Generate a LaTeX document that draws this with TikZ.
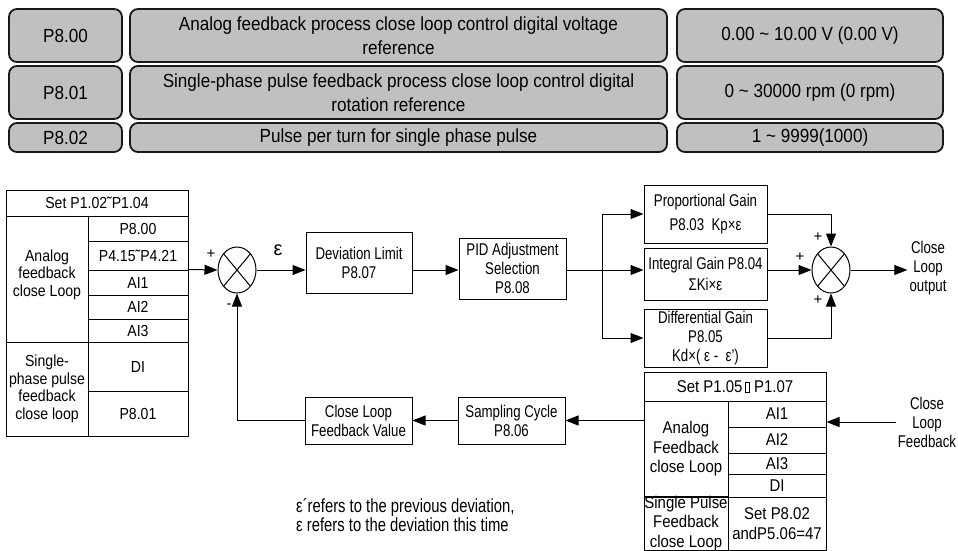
\documentclass[tikz,border=0pt]{standalone}
\usepackage{fontspec}
\setmainfont{Liberation Sans}
\newfontfamily\narrowfont[FakeStretch=0.78]{Liberation Sans}
\newfontfamily\cellfont[FakeStretch=0.88]{Liberation Sans}
\newfontfamily\topfont[FakeStretch=0.9]{Liberation Sans}
\usetikzlibrary{shapes.geometric,arrows.meta}
\definecolor{cellgray}{RGB}{192,192,192}
\newcommand{\missglyph}{{\setlength{\fboxsep}{0pt}\setlength{\fboxrule}{0.5pt}\,\fbox{\rule{0pt}{10pt}\hspace{3.5pt}}}}

\begin{document}
\begin{tikzpicture}[x=1pt, y=-1pt,
    topbox/.style={draw=black!90, line width=1.8pt, rounded corners=8pt, fill=cellgray, align=center, inner sep=0pt, font=\topfont\fontsize{19}{24}\selectfont},
    blk/.style={draw, line width=1pt, align=center, inner sep=0pt, font=\narrowfont\fontsize{17}{19}\selectfont},
    lcell/.style={draw, line width=1pt, align=center, inner sep=0pt, font=\cellfont\fontsize{16}{17.5}\selectfont},
    rcell/.style={draw, line width=1pt, align=center, inner sep=0pt, font=\cellfont\fontsize{17}{19.5}\selectfont},
    summer/.style={draw, ellipse, line width=1pt, minimum width=38, minimum height=46, inner sep=0pt,
        path picture={\draw (path picture bounding box.north west) -- (path picture bounding box.south east)
                            (path picture bounding box.north east) -- (path picture bounding box.south west);}},
    arr/.style={line width=1pt, -{Triangle[length=13pt,width=10pt]}},
    line/.style={line width=1pt},
    sign/.style={inner sep=0pt, font=\fontsize{15}{15}\selectfont},
    txt/.style={inner sep=2pt, align=center, font=\narrowfont\fontsize{17}{19}\selectfont}]

\useasboundingbox (0,0) rectangle (958,550);

% Tabla superior
\foreach \n/\y/\h/\desc/\rng in {
    0/35.5/53/{Analog feedback process close loop control digital voltage\\reference}/{0.00 \textasciitilde{} 10.00 V (0.00 V)},
    1/92.5/53/{Single-phase pulse feedback process close loop control digital\\rotation reference}/{0 \textasciitilde{} 30000 rpm (0 rpm)},
    2/137.5/29/{Pulse per turn for single phase pulse}/{1 \textasciitilde{} 9999(1000)}} {
    \node[topbox, minimum width=113, minimum height=\h] (par\n) at (65.5,\y) {P8.0\n};
    \node[topbox, minimum width=537, minimum height=\h] (desc\n) at (398.5,\y) {\desc};
    \node[topbox, minimum width=266, minimum height=\h] (rng\n) at (810,\y) {\rng};
}

% Tabla izquierda (referencia)
\node[lcell, minimum width=182, minimum height=26] (lhead) at (97,203) {Set P1.02˜P1.04};
\node[lcell, minimum width=82, minimum height=126, text depth=12pt] (lana) at (47,279) {Analog\\feedback\\close Loop};
\node[lcell, minimum width=82, minimum height=94] (lpul) at (47,389) {Single-\\phase pulse\\feedback\\close loop};
\foreach \t/\y/\h [count=\i] in {P8.00/228.5/25, P4.15˜P4.21/255.5/29, AI1/282.5/25,
    AI2/307/24, AI3/330.5/23, DI/366.5/49, P8.01/413.5/45} {
    \node[lcell, minimum width=100, minimum height=\h] (lr\i) at (138,\y) {\t};
}

% Bloques
\node[summer] (sum1) at (237,270) {};
\node[blk, minimum width=106, minimum height=61] (dev) at (359,262.5) {Deviation Limit\\P8.07};
\node[blk, minimum width=107, minimum height=61] (pid) at (512.5,268.5) {PID Adjustment\\Selection\\P8.08};
\node[blk, minimum width=123, minimum height=58, font=\narrowfont\fontsize{17}{24}\selectfont] (prop) at (705.5,214) {Proportional Gain\\P8.03\ \ Kp×ε};
\node[blk, minimum width=123, minimum height=52, font=\narrowfont\fontsize{17}{21}\selectfont] (intg) at (705.5,274) {Integral Gain P8.04\\ΣKi×ε};
\node[blk, minimum width=123, minimum height=58] (diff) at (705.5,338) {Differential Gain\\P8.05\\Kd×( ε -\ \ ε’)};
\node[summer] (sum2) at (831,270) {};
\node[txt] (out) at (928,268) {Close\\Loop\\output};
\node[blk, minimum width=107, minimum height=47] (samp) at (511.5,420.5) {Sampling Cycle\\P8.06};
\node[blk, minimum width=107, minimum height=47] (fbv) at (358.5,420.5) {Close Loop\\Feedback Value};
\node[txt] (fbin) at (927,422) {Close\\Loop\\Feedback};

% Tabla derecha (realimentacion)
\node[rcell, minimum width=182, minimum height=29] (rhead) at (735,386.5) {Set P1.05\missglyph\ P1.07};
\node[rcell, minimum width=84, minimum height=96] (rana) at (686,449) {Analog\\Feedback\\close Loop};
\node[rcell, minimum width=84, minimum height=53] (rpul) at (686,523.5) {Single Pulse\\Feedback\\close Loop};
\foreach \t/\y/\h [count=\i] in {AI1/414/26, AI2/440/26, AI3/463.5/21, DI/485.5/23,
    {Set P8.02\\andP5.06=47}/523.5/53} {
    \node[rcell, minimum width=98, minimum height=\h] (rr\i) at (777,\y) {\t};
}

% Conexiones
\coordinate (br) at (602,270);
\draw[arr] (lr3.north east) -- (sum1.west);
\draw[arr] (sum1.east) -- (dev.west |- sum1.east);
\draw[arr] (dev.east |- sum1.east) -- (pid.west |- sum1.east);
\draw[line] (pid.east |- br) -- (br);
\draw[arr] (br) |- (prop.west);
\draw[arr] (br) -- (intg.west |- br);
\draw[arr] (br) |- (diff.west);
\draw[arr] (prop.east) -| (sum2.north);
\draw[arr] (intg.east |- br) -- (sum2.west);
\draw[arr] (diff.east) -| (sum2.south);
\draw[arr] (sum2.east) -- (out.west |- sum2.east);
\draw[arr] (fbin.west) -- (rr1.east |- fbin.west);
\draw[arr] (rana.west |- samp.east) -- (samp.east);
\draw[arr] (samp.west) -- (fbv.east);
\draw[arr] (fbv.west) -| (sum1.south);

% Etiquetas
\node[sign] (p1) at (211,254) {+};
\node[sign] (m1) at (229,306) {-};
\node[sign, font=\fontsize{20}{20}\selectfont] (eps) at (278,250) {ε};
\node[sign] (p2) at (818,237) {+};
\node[sign] (p3) at (800,257) {+};
\node[sign] (p4) at (818,300) {+};
\node[anchor=west, align=left, inner sep=0pt, font=\narrowfont\fontsize{19}{17}\selectfont] (note) at (296,515)
    {ε´refers to the previous deviation,\\ε refers to the deviation this time};

\end{tikzpicture}
\end{document}
